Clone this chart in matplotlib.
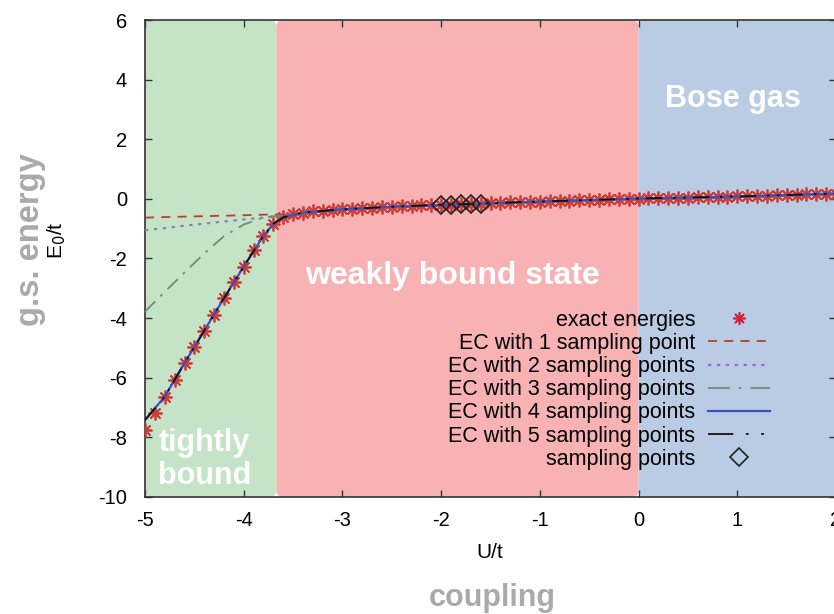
import numpy as np
import matplotlib
matplotlib.use('Agg')
import matplotlib.pyplot as plt
from matplotlib.patches import FancyBboxPatch
from matplotlib.lines import Line2D

plt.rcParams['font.family'] = ['Liberation Sans', 'DejaVu Sans']
plt.rcParams['axes.unicode_minus'] = False

# exact ground-state energies, sampled every 0.1 in U/t from -5 to 2
u_exact = np.round(np.arange(-5.0, 2.001, 0.1), 2)
e_exact = [-7.75, -7.19, -6.63, -6.07, -5.51, -4.96, -4.42, -3.88, -3.33, -2.79,
           -2.27, -1.73, -1.24, -0.84, -0.62, -0.52, -0.46, -0.42, -0.39, -0.37,
           -0.35, -0.33, -0.31, -0.295, -0.28, -0.265, -0.25, -0.235, -0.22, -0.21,
           -0.20, -0.19, -0.18, -0.17, -0.16, -0.145, -0.13, -0.12, -0.11, -0.10,
           -0.09, -0.08, -0.07, -0.06, -0.05, -0.04, -0.03, -0.02, -0.01, 0.0,
           0.01, 0.015, 0.02, 0.03, 0.035, 0.045, 0.05, 0.06, 0.065, 0.075,
           0.08, 0.09, 0.10, 0.11, 0.12, 0.13, 0.14, 0.15, 0.16, 0.17, 0.18]

# eigenvector continuation curves
u_ec = [-5.0, -4.8, -4.6, -4.4, -4.2, -4.0, -3.8, -3.7, -3.6, -3.4, -3.0, -2.5, -2.0, -1.0, 0.0, 1.0, 2.0]
tail = [-0.46, -0.35, -0.265, -0.20, -0.09, 0.01, 0.08, 0.18]
e_ec1 = [-0.63, -0.61, -0.595, -0.58, -0.565, -0.55, -0.53, -0.52, -0.53] + tail
e_ec2 = [-1.05, -0.98, -0.90, -0.83, -0.76, -0.69, -0.63, -0.60, -0.57] + tail
e_ec3 = [-3.78, -3.12, -2.47, -1.83, -1.25, -0.86, -0.63, -0.58, -0.56] + tail
e_ec4 = [-7.42, -6.63, -5.51, -4.42, -3.33, -2.27, -1.24, -0.84, -0.62] + tail
e_ec5 = [-7.42, -6.63, -5.51, -4.42, -3.33, -2.27, -1.24, -0.84, -0.62] + tail

u_samp = [-2.0, -1.9, -1.8, -1.7, -1.6]
e_samp = [-0.20, -0.19, -0.18, -0.17, -0.16]

regions = [(-5.0, -3.67, '#c5e4c7'), (-3.67, 0.0, '#f8b2b4'), (0.0, 2.1, '#b9cce4')]

fig = plt.figure(figsize=(8.34, 6.14), dpi=100)
ax = fig.add_axes([0.1739, 0.1906, 0.8285, 0.7768])
ax.set_xlim(-5, 2)
ax.set_ylim(-10, 6)

for x0, x1, c in regions:
    ax.add_patch(FancyBboxPatch((x0, -10), x1 - x0, 16,
                                boxstyle='round,pad=0,rounding_size=0.07',
                                mutation_aspect=3.3, fc=c, ec='none', zorder=0))

ax.plot(u_exact, e_exact, ls='none', marker=(8, 2, 0), ms=10, mew=1.3,
        color='#cc3d36', zorder=3)
l1, = ax.plot(u_ec, e_ec1, ls=(0, (5, 4)), color='#b5402e', lw=1.3, zorder=4)
l2, = ax.plot(u_ec, e_ec2, ls=(0, (1.5, 2.5)), color='#8c7fb3', lw=1.6, zorder=4)
l3, = ax.plot(u_ec, e_ec3, ls=(0, (8, 4, 1.5, 4)), color='#6f8c73', lw=1.3, zorder=4)
l4, = ax.plot(u_ec, e_ec4, ls='-', color='#3a4fc4', lw=1.6, zorder=5)
l5, = ax.plot(u_ec, e_ec5, ls=(0, (9, 6, 1.5, 4, 1.5, 4)), color='#111111', lw=1.3, zorder=5)
ax.plot(u_samp, e_samp, ls='none', marker='D', ms=9, mfc='none', mec='#222222',
        mew=1.2, zorder=6)

h0 = Line2D([], [], ls='none', marker=(8, 2, 0), ms=9, mew=1.2, color='#d4203a')
h2 = Line2D([], [], ls=(0, (1.5, 2.5)), color='#9966dd', lw=1.6)
h3 = Line2D([], [], ls=(0, (12, 5, 1.5, 5)), color='#6f8c73', lw=1.3)
h5 = Line2D([], [], ls=(0, (14, 7, 1.5, 7, 1.5, 7)), color='#111111', lw=1.3)
h6 = Line2D([], [], ls='none', marker='D', ms=9, mfc='none', mec='#222222', mew=1.2)
leg = ax.legend([h0, l1, h2, h3, l4, h5, h6],
                ['exact energies', 'EC with 1 sampling point', 'EC with 2 sampling points',
                 'EC with 3 sampling points', 'EC with 4 sampling points',
                 'EC with 5 sampling points', 'sampling points'],
                loc='lower right', bbox_to_anchor=(0.9175, 0.039), markerfirst=False,
                frameon=False, fontsize=15.5, handlelength=2.9, handletextpad=0.6,
                labelspacing=0.10, borderaxespad=0)
for t in leg.get_texts():
    t.set_ha('right')
leg._legend_box.align = 'right'

ax.set_xticks([-5, -4, -3, -2, -1, 0, 1, 2])
ax.set_yticks([-10, -8, -6, -4, -2, 0, 2, 4, 6])
ax.tick_params(direction='in', length=5, width=1, top=True, right=True,
               labelsize=14.5, color='#333333')
ax.tick_params(axis='y', pad=13)
ax.tick_params(axis='x', pad=10)
for s in ax.spines.values():
    s.set_color('#333333')
    s.set_linewidth(1.2)

ax.text(-4.4, -8.75, 'tightly\nbound', color='white', fontsize=22, fontweight='bold',
        ha='center', va='center', linespacing=1.12, zorder=7)
ax.text(-1.88, -2.6, 'weakly bound state', color='white', fontsize=23,
        fontweight='bold', ha='center', va='center', zorder=7)
ax.text(0.96, 3.35, 'Bose gas', color='white', fontsize=22, fontweight='bold',
        ha='center', va='center', zorder=7)

fig.text(57 / 834, 1 - 240 / 614, 'E$_0$/t', rotation=90, fontsize=15,
         ha='center', va='center')
fig.text(31 / 834, 1 - 240 / 614, 'g.s. energy', rotation=90, fontsize=23.5,
         fontweight='bold', color='#aaaaaa', ha='center', va='center')
fig.text(490 / 834, 1 - 552 / 614, 'U/t', fontsize=15, ha='center', va='center')
fig.text(492 / 834, 1 - 598 / 614, 'coupling', fontsize=22, fontweight='bold',
         color='#aaaaaa', ha='center', va='center')

fig.savefig('out.png', dpi=100)
